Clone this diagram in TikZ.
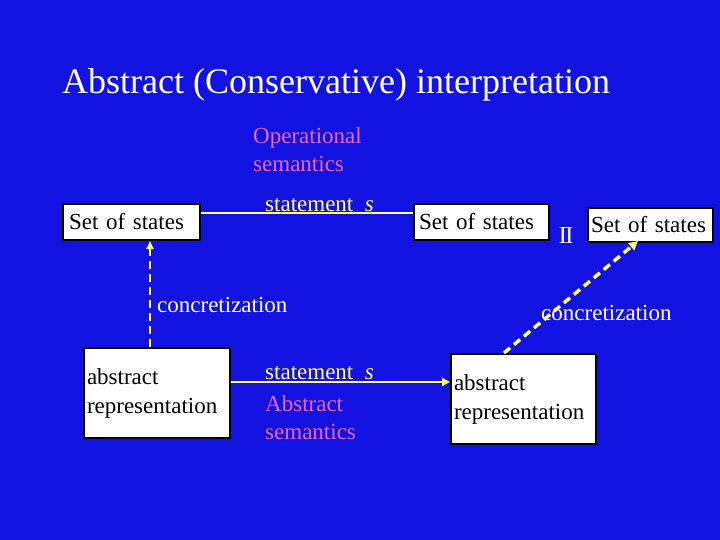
\documentclass[tikz,border=0pt]{standalone}
\usepackage{fontspec}
\setmainfont{Liberation Serif}
\usetikzlibrary{arrows.meta}
\definecolor{bg}{RGB}{18,18,225}
\definecolor{pinkc}{RGB}{240,100,190}
\definecolor{yel}{RGB}{255,255,120}
\begin{document}
\begin{tikzpicture}[x=1pt,y=-1pt,
  box/.style={draw=black,line width=2pt,fill=white,inner sep=0pt,anchor=north west,font=\fontsize{23}{29}\selectfont,align=left},
  lbl/.style={text=white,font=\fontsize{23}{29}\selectfont,anchor=west,inner sep=0pt},
  sem/.style={text=pinkc,font=\fontsize{23}{28}\selectfont,anchor=north west,align=left,inner sep=0pt},
  stl/.style={text=yel,font=\fontsize{23}{29}\selectfont,anchor=west,inner sep=0pt},
  conn/.style={draw=yel,line width=2.5pt}]
\fill[bg] (0,0) rectangle (720,540);
\useasboundingbox (0,0) rectangle (720,540);
\node[text=white,anchor=west,inner sep=0pt,font=\fontsize{36}{36}\selectfont] (title) at (62,85) {Abstract (Conservative) interpretation};
\node[box,minimum width=137pt,minimum height=36pt,text width=131pt] (s1) at (62,203) {\hspace{3pt}Set of states};
\node[box,minimum width=135pt,minimum height=36pt,text width=131pt] (s2) at (413,203) {\hspace{3pt}Set of states};
\node[box,minimum width=125pt,minimum height=34pt,text width=125pt] (s3) at (587,207) {\hspace{3pt}Set of states};
\node[box,minimum width=146pt,minimum height=90pt,text width=140pt,inner xsep=3pt] (a1) at (83,347) {abstract\\representation};
\node[box,minimum width=145pt,minimum height=90pt,text width=139pt,inner xsep=3pt] (a2) at (450,353) {abstract\\representation};
\node[text=white,inner sep=0pt,font=\fontsize{24}{24}\selectfont] (eq) at (566,236) {I\kern-1.5pt I};
\draw[white,line width=1pt] ([xshift=-4pt]eq.north) -- ([xshift=4pt]eq.north);
\node[sem] (op) at (253,127) {Operational\\semantics};
\node[sem] (as) at (265,395) {Abstract\\semantics};
\node[stl] (st1) at (265,205) {statement\ \ \textit{s}};
\node[stl] (st2) at (265,373) {statement\ \ \textit{s}};
\node[lbl] (c1) at (157,305) {concretization};
\node[lbl] (c2) at (541,313) {concretization};
\draw[conn] (s1.east |- 0,213) -- (s2.west |- 0,213);
\draw[conn,-{Triangle[length=8pt,width=8pt]}] (a1.east |- 0,382) -- (a2.west |- 0,382);
\draw[conn,line width=2pt,dash pattern=on 8pt off 5pt,-{Triangle[length=8pt,width=7pt]}] (a1.north -| 150,0) -- (s1.south -| 150,0);
\coordinate (d1) at (504,353);
\coordinate (d2) at (638,241);
\draw[conn,line width=3.5pt,dash pattern=on 8pt off 5pt,-{Triangle[length=9pt,width=9pt]}] (d1) -- (d2);
\end{tikzpicture}
\end{document}
